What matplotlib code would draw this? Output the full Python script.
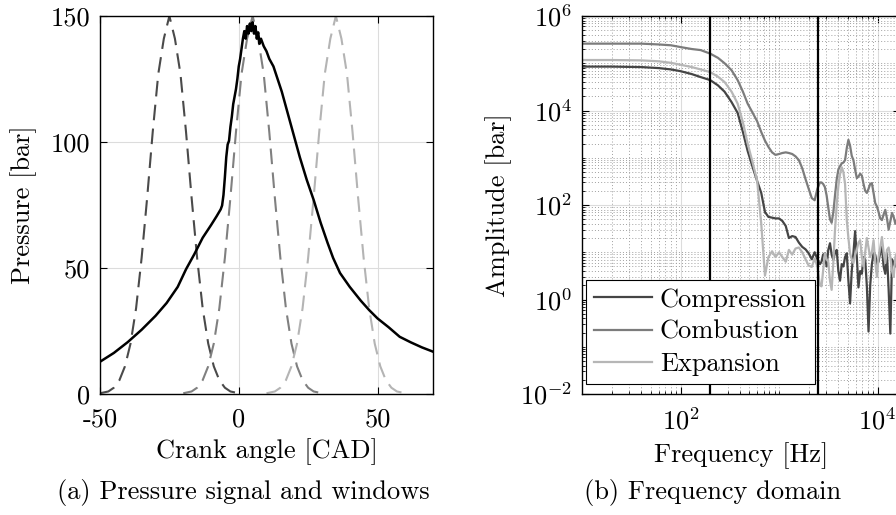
import matplotlib
matplotlib.use("Agg")
from matplotlib import pyplot as plt
from matplotlib import ticker

plt.rcParams["font.family"] = "serif"
plt.rcParams["font.serif"] = ["cmr10"]
plt.rcParams["mathtext.fontset"] = "cm"
plt.rcParams["axes.unicode_minus"] = False
plt.rcParams["axes.formatter.use_mathtext"] = True

FS = 19

# --- (a) pressure trace and windows ---
cad = [-50, -45, -40, -35, -30, -26, -22, -19, -16, -13, -10, -8, -6.5, -6, -5.5,
       -5, -4.5, -4, -3.5, -3, -2.5, -2, -1.5, -1, -0.5, 0, 0.5, 1, 1.5, 2,
       2.5, 3, 3.5, 4, 4.5, 5, 5.5, 6, 6.5, 7, 7.5, 8, 9, 10, 11,
       12.5, 14, 15.5, 17, 19.5, 22, 24.5, 27, 29.5, 32, 34, 36.5, 40, 44, 47,
       50, 54, 58, 62, 66, 70]
pressure = [12.8, 16.3, 20.6, 25.5, 31.0, 36.1, 42.5, 49.5, 55.5, 62, 67, 70.5, 73.3, 74.8, 79,
            86, 94, 99, 100.5, 106, 110, 115, 118, 121, 125, 130, 133, 137, 141, 144,
            141, 146, 143, 147, 144, 147.5, 143, 146, 141, 143.5, 139, 141, 138, 136, 133,
            130, 125, 120, 114, 104, 94, 85, 77, 68, 60, 54, 48, 42.5, 37, 33.3,
            30, 26.5, 22.7, 20.5, 18.5, 16.8]

win_offset = [-25, -22, -20, -18, -16, -14, -12, -10, -8, -6, -4, -2, 0,
              2, 4, 6, 8, 10, 12, 14, 16, 18, 20, 22, 25]
win_value = [0.3, 1, 2.5, 5.5, 11, 20, 34, 54, 78, 104, 127, 141, 150,
             141, 127, 104, 78, 54, 34, 20, 11, 5.5, 2.5, 1, 0.3]
win_centers = [-25, 5, 35]
win_colors = ["#4a4a4a", "#808080", "#b4b4b4"]

# --- (b) spectra ---
freq = [10, 20, 40, 60, 80, 100, 130, 160, 200, 240, 280, 330, 380, 430, 480,
        540, 600, 660, 720, 780, 850, 920, 1000, 1080, 1170, 1260, 1360, 1470, 1590, 1720,
        1860, 2000, 2150, 2300, 2450,
        2600, 2700, 2800, 2920, 3040, 3160, 3290, 3420, 3560, 3700, 3850, 4000, 4160, 4330,
        4500, 4680, 4870, 5060, 5260, 5470, 5690, 5920, 6160, 6400, 6660, 6930, 7200, 7490,
        7790, 8100, 8420, 8760, 9110, 9470, 9850, 10240, 10650, 11080, 11520, 11980, 12460,
        12960, 13480, 14020, 14580, 15160, 15770, 16400, 17000]

compression = [8.5e4, 8.5e4, 8.3e4, 7.9e4, 7.4e4, 6.8e4, 5.9e4, 5.1e4, 4.4e4, 3.4e4,
               2.5e4, 1.5e4, 8.9e3, 3.5e3, 1.4e3, 630, 320, 180, 71, 56,
               54, 52, 52, 46, 36, 20, 22, 21, 16, 13,
               11.5, 9.5, 7.1, 10, 7.1,
               5.6, 6.3, 8.9, 9.5, 5.0, 11.2, 15.5, 8.9, 6.9, 10, 11.2, 4.0, 2.5, 5.6,
               5.0, 7.9, 9.5, 2.5, 0.83, 4.0, 9.5, 28, 7.9, 1.8, 4.0, 3.5, 7.9, 7.1,
               1.9, 0.21, 2.0, 5.6, 9.5, 8.9, 5.6, 6.3, 10, 13, 5.0, 3.5, 9.5,
               1.6, 0.19, 7.1, 5.6, 5.0, 7.9, 4.0, 6.3]

combustion = [2.6e5, 2.6e5, 2.6e5, 2.5e5, 2.4e5, 2.2e5, 2.0e5, 1.9e5, 1.6e5, 1.3e5,
              1.0e5, 7.1e4, 4.4e4, 2.5e4, 1.4e4, 8.9e3, 5.9e3, 3.5e3, 2.3e3, 1.7e3,
              1.3e3, 1.15e3, 1.2e3, 1.26e3, 1.3e3, 1.26e3, 1.2e3, 1.07e3, 890, 600,
              350, 220, 140, 126, 220,
              300, 300, 280, 240, 160, 89, 50, 42, 71, 160, 350, 560, 660, 760,
              790, 890, 1600, 2400, 1800, 1100, 890, 560, 370, 400, 460, 420, 280, 200,
              180, 220, 280, 290, 180, 110, 93, 71, 52, 48, 63, 79, 52,
              30, 45, 68, 56, 40, 50, 35, 45]

expansion = [1.17e5, 1.17e5, 1.15e5, 1.1e5, 1.02e5, 9.3e4, 8.3e4, 7.4e4, 6.5e4, 5.2e4,
             4.0e4, 2.5e4, 1.4e4, 5.6e3, 2.0e3, 790, 320, 40, 3.2, 7.9,
             10.5, 7.9, 10, 7.9, 6.3, 11.2, 8.9, 12, 12.6, 10,
             7.1, 5.2, 4.9, 7.4, 5.0,
             2.0, 1.9, 4.0, 9.5, 7.1, 6.3, 2.5, 1.6, 6.3, 30, 100, 250, 450, 630,
             500, 280, 48, 20, 9.5, 7.1, 5.9, 8.9, 11.2, 16, 18, 7.9, 5.0, 10,
             20, 12.6, 7.9, 10, 18, 6.3, 3.0, 7.9, 12.6, 21, 10, 5.9, 11.2,
             12.6, 7.9, 4.0, 3.0, 7.9, 10, 5.0, 7.9]

series_names = ["Compression", "Combustion", "Expansion"]
series_colors = ["#454545", "#7c7c7c", "#b6b6b6"]
band_edges = [200, 2500]

fig = plt.figure(figsize=(8.96, 5.15), dpi=100)

ax1 = fig.add_axes([100 / 896, 121 / 515, 333 / 896, 378 / 515])
for c, col in zip(win_centers, win_colors):
    ax1.plot([c + o for o in win_offset], win_value, color=col, lw=1.5, dashes=(7.5, 4))
ax1.plot(cad, pressure, color="black", lw=1.8)
ax1.set_xlim(-50, 70)
ax1.set_ylim(0, 150)
ax1.xaxis.set_major_locator(ticker.FixedLocator([-50, 0, 50]))
ax1.yaxis.set_major_locator(ticker.FixedLocator([0, 50, 100, 150]))
ax1.xaxis.set_major_formatter(ticker.FormatStrFormatter("%g"))
ax1.yaxis.set_major_formatter(ticker.FormatStrFormatter("%g"))
ax1.grid(True, color="#dcdcdc", lw=0.8)
ax1.set_axisbelow(True)
ax1.set_xlabel("Crank angle [CAD]", fontsize=FS, labelpad=5)
ax1.set_ylabel("Pressure [bar]", fontsize=FS, labelpad=10)

ax2 = fig.add_axes([582 / 896, 121 / 515, 318 / 896, 378 / 515])
for amp, name, col in zip([compression, combustion, expansion], series_names, series_colors):
    ax2.plot(freq, amp, color=col, lw=1.6, label=name)
for f in band_edges:
    ax2.axvline(f, color="black", lw=1.6)
ax2.set_xscale("log")
ax2.set_yscale("log")
ax2.set_xlim(10, 1.69e4)
ax2.set_ylim(1e-2, 1e6)
ax2.xaxis.set_major_locator(ticker.FixedLocator([1e2, 1e4]))
ax2.yaxis.set_major_locator(ticker.FixedLocator([1e-2, 1e0, 1e2, 1e4, 1e6]))
ax2.xaxis.set_minor_locator(ticker.LogLocator(base=10, subs=range(1, 10), numticks=30))
ax2.yaxis.set_minor_locator(ticker.LogLocator(base=10, subs=range(1, 10), numticks=30))
ax2.xaxis.set_minor_formatter(ticker.NullFormatter())
ax2.yaxis.set_minor_formatter(ticker.NullFormatter())
ax2.grid(True, which="major", color="#dcdcdc", lw=0.8)
ax2.grid(True, which="minor", color="#a0a0a0", lw=0.7, ls=(0, (1, 2.2)))
ax2.set_axisbelow(True)
ax2.set_xlabel("Frequency [Hz]", fontsize=FS, labelpad=5)
ax2.set_ylabel("Amplitude [bar]", fontsize=FS, labelpad=6)
leg = ax2.legend(loc="lower left", bbox_to_anchor=(4 / 318, 10 / 378), borderaxespad=0,
                 fontsize=FS, fancybox=False, framealpha=1, edgecolor="black",
                 handlelength=2.2, handletextpad=0.3, labelspacing=0.32,
                 borderpad=0.3)
leg.get_frame().set_linewidth(0.8)

for ax in (ax1, ax2):
    ax.tick_params(which="both", direction="in", top=True, right=True, labelsize=FS)
    ax.tick_params(axis="x", pad=10)
    ax.tick_params(axis="y", pad=7)
    ax.tick_params(which="major", length=5)
    ax.tick_params(which="minor", length=2.5)
    for s in ax.spines.values():
        s.set_linewidth(1.0)

fig.text(243 / 896, 1 - 493 / 515, "(a) Pressure signal and windows", fontsize=FS,
         ha="center", va="center")
fig.text(713 / 896, 1 - 493 / 515, "(b) Frequency domain", fontsize=FS,
         ha="center", va="center")

fig.savefig("out.png", dpi=100)
